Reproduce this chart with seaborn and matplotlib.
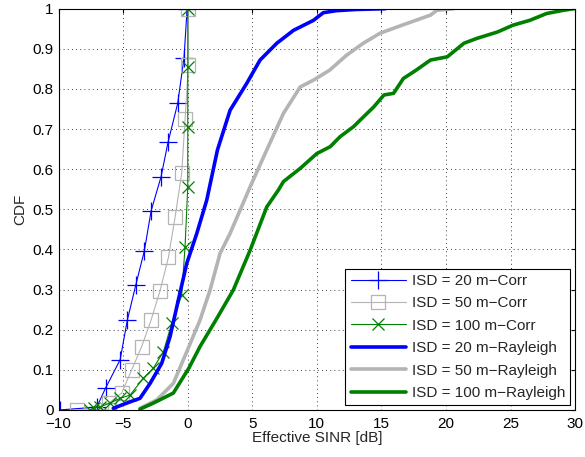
import matplotlib

matplotlib.use("Agg")
import matplotlib.pyplot as plt
import pandas as pd
import seaborn as sns

# ── Data (Effective SINR in dB, CDF) ──────────────────────────────────────────
corr20_x = [-9.9, -7.05, -6.36, -5.24, -4.68, -4.03, -3.36, -2.84, -2.07, -1.53, -0.78, -0.29, -0.05]
corr20_y = [0.0, 0.007, 0.055, 0.125, 0.224, 0.311, 0.397, 0.496, 0.581, 0.667, 0.764, 0.878, 1.0]

corr50_x = [-8.6, -6.15, -6.1, -5.12, -4.34, -3.57, -2.84, -2.15, -1.5, -0.98, -0.47, -0.21, 0.05, 0.05]
corr50_y = [0.0, 0.0, 0.017, 0.042, 0.1, 0.158, 0.224, 0.297, 0.38, 0.481, 0.59, 0.724, 0.859, 1.0]

corr100_x = [-7.57, -7.24, -6.8, -6.02, -5.25, -4.47, -3.44, -2.67, -1.89, -1.24, -0.47, -0.21, 0.0, 0.0, 0.0, 0.0]
corr100_y = [0.0, 0.005, 0.008, 0.017, 0.029, 0.037, 0.079, 0.104, 0.145, 0.216, 0.286, 0.407, 0.556, 0.706, 0.855, 1.0]

ray20_x = [-5.77, -4.73, -3.7, -2.92, -2.02, -1.37, -0.73, -0.08, 0.7, 1.47, 2.3, 3.28, 4.57,
           5.6, 6.9, 8.19, 9.74, 10.5, 11.5, 13.0, 15.3]
ray20_y = [0.004, 0.017, 0.029, 0.066, 0.116, 0.183, 0.274, 0.365, 0.44, 0.523, 0.648, 0.747, 0.814,
           0.872, 0.914, 0.946, 0.971, 0.99, 0.995, 0.998, 1.0]

ray50_x = [-3.7, -2.4, -1.12, -0.08, 0.95, 1.73, 2.5, 3.28, 4.83, 6.12, 7.41, 8.71, 9.74, 11.0,
           12.3, 13.6, 14.9, 16.7, 18.8, 19.3, 20.6]
ray50_y = [0.004, 0.025, 0.066, 0.145, 0.224, 0.299, 0.39, 0.44, 0.556, 0.648, 0.739, 0.805, 0.822, 0.847,
           0.884, 0.914, 0.939, 0.96, 0.984, 0.996, 1.0]

ray100_x = [-3.7, -2.67, -1.12, 0.1, 0.95, 2.25, 3.53, 4.83, 6.12, 7.02, 7.41, 8.71, 10.0, 11.03,
            11.8, 12.84, 13.6, 14.4, 15.2, 15.94, 16.7, 17.7, 18.8, 20.1, 21.4, 22.4, 24.0, 25.2,
            26.5, 27.8, 29.1, 29.9]
ray100_y = [0.002, 0.017, 0.042, 0.105, 0.158, 0.228, 0.299, 0.398, 0.506, 0.548, 0.569, 0.602, 0.639, 0.656,
            0.681, 0.706, 0.73, 0.755, 0.785, 0.789, 0.826, 0.847, 0.872, 0.88, 0.914, 0.926, 0.942, 0.959,
            0.971, 0.988, 0.996, 1.0]

labels = ["ISD = 20 m\u2212Corr", "ISD = 50 m\u2212Corr", "ISD = 100 m\u2212Corr",
          "ISD = 20 m\u2212Rayleigh", "ISD = 50 m\u2212Rayleigh", "ISD = 100 m\u2212Rayleigh"]

# ── Style ─────────────────────────────────────────────────────────────────────
sns.set_style("white")
plt.rcParams.update({
    "font.family": ["Liberation Sans", "DejaVu Sans"],
    "font.size": 11,
    "xtick.direction": "in",
    "ytick.direction": "in",
    "axes.edgecolor": "black",
    "axes.linewidth": 0.8,
})

BLUE, GRAY, GREEN = "#0000ff", "#b4b4b4", "#008000"

fig = plt.figure(figsize=(5.85, 4.57), dpi=100)
ax = fig.add_axes([0.1003, 0.103, 0.8827, 0.878])

series = [
    (corr20_x, corr20_y, BLUE, 0.8, "+", 13),
    (corr50_x, corr50_y, GRAY, 0.8, "s", 10),
    (corr100_x, corr100_y, GREEN, 0.8, "x", 9),
    (ray20_x, ray20_y, BLUE, 2.6, None, 0),
    (ray50_x, ray50_y, GRAY, 2.6, None, 0),
    (ray100_x, ray100_y, GREEN, 2.6, None, 0),
]

for (xs, ys, color, lw, marker, ms), label in zip(series, labels):
    df = pd.DataFrame({"sinr": xs, "cdf": ys})
    kw = {}
    if marker is not None:
        kw = dict(marker=marker, markersize=ms, markerfacecolor="none",
                  markeredgecolor=color, markeredgewidth=0.9)
    sns.lineplot(data=df, x="sinr", y="cdf", ax=ax, color=color, lw=lw,
                 sort=False, estimator=None, label=label, **kw)

ax.set_xlim(-10, 30)
ax.set_ylim(0, 1)
ax.set_xticks(range(-10, 31, 5))
ax.set_yticks([i / 10 for i in range(11)])
ax.set_yticklabels(["0", "0.1", "0.2", "0.3", "0.4", "0.5", "0.6", "0.7", "0.8", "0.9", "1"])
ax.grid(True, color="black", linestyle=(0, (1, 4)), linewidth=0.6)
ax.tick_params(labelsize=11, length=3, top=True, right=True, colors="black")
ax.tick_params(axis="x", pad=5)
for sp in ax.spines.values():
    sp.set_visible(True)
ax.set_xlabel("Effective SINR [dB]", fontsize=11, labelpad=0)
ax.set_ylabel("CDF", fontsize=11, labelpad=4)

leg = ax.legend(loc="lower right", fontsize=11, frameon=True, fancybox=False,
                edgecolor="black", framealpha=1, borderpad=0.35, labelspacing=0.55,
                handlelength=3.6, handletextpad=0.4, borderaxespad=0.3)
leg.get_frame().set_linewidth(0.8)

fig.savefig("out.png", dpi=100)
